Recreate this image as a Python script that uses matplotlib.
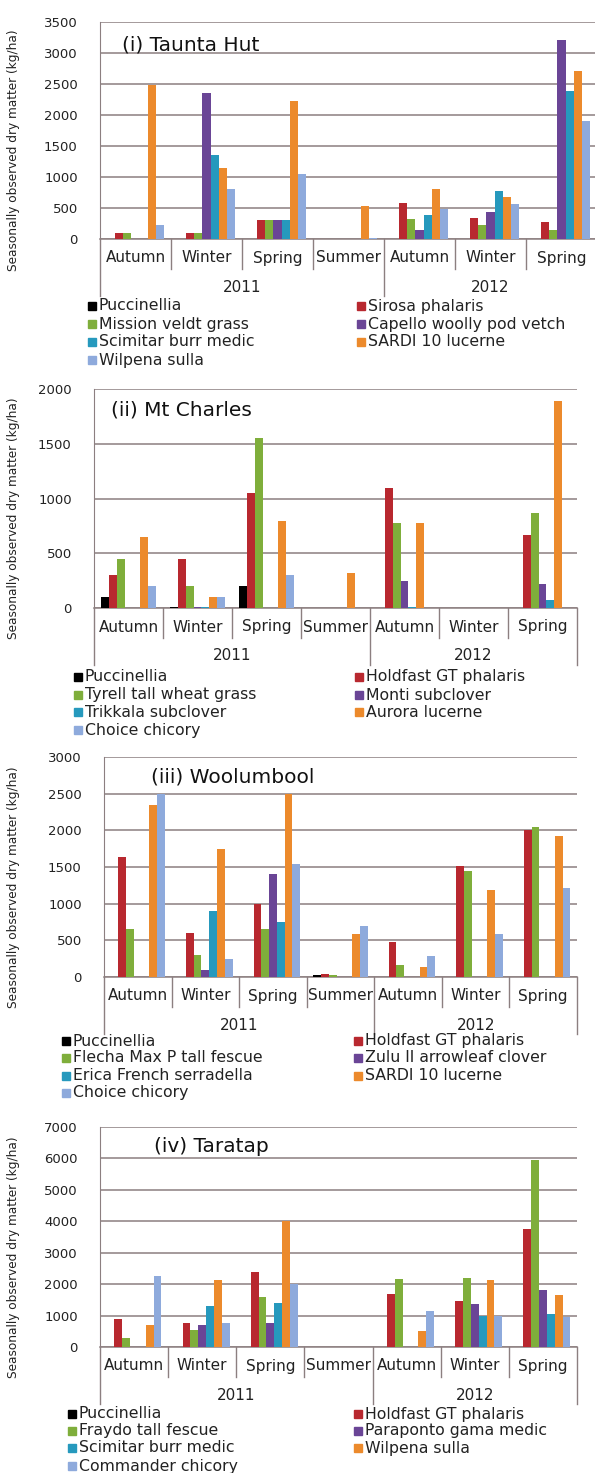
import matplotlib
matplotlib.use("Agg")
import matplotlib.pyplot as plt
from matplotlib.patches import Rectangle
import numpy as np

plt.rcParams['font.family'] = ['DejaVu Sans']

seasons = ["Autumn", "Winter", "Spring", "Summer", "Autumn", "Winter", "Spring"]
years = ["2011", "2012"]

colors = ["#000000", "#b8282f", "#7fae3b", "#6a4596", "#2699bd", "#ec8a2c", "#8eaadc"]

# (i) Taunta Hut
names_1 = ["Puccinellia", "Sirosa phalaris", "Mission veldt grass",
           "Capello woolly pod vetch", "Scimitar burr medic", "SARDI 10 lucerne",
           "Wilpena sulla"]
puccinellia_1 = [0, 0, 0, 0, 0, 0, 0]
sirosa_1 = [90, 90, 310, 0, 580, 340, 280]
mission_1 = [90, 90, 310, 0, 320, 220, 140]
capello_1 = [0, 2350, 310, 0, 140, 440, 3210]
scimitar_1 = [0, 1350, 310, 0, 390, 770, 2380]
sardi_1 = [2490, 1150, 2230, 540, 800, 670, 2710]
wilpena_1 = [230, 800, 1050, 10, 490, 560, 1910]

# (ii) Mt Charles
names_2 = ["Puccinellia", "Holdfast GT phalaris", "Tyrell tall wheat grass",
           "Monti subclover", "Trikkala subclover", "Aurora lucerne",
           "Choice chicory"]
puccinellia_2 = [100, 10, 200, 0, 0, 0, 0]
holdfast_2 = [300, 450, 1050, 0, 1100, 0, 665]
tyrell_2 = [450, 200, 1550, 0, 780, 0, 870]
monti_2 = [0, 5, 0, 0, 245, 0, 220]
trikkala_2 = [0, 5, 0, 0, 5, 0, 70]
aurora_2 = [650, 100, 790, 320, 780, 0, 1890]
choice_2 = [200, 100, 300, 0, 0, 0, 0]

# (iii) Woolumbool
names_3 = ["Puccinellia", "Holdfast GT phalaris", "Flecha Max P tall fescue",
           "Zulu II arrowleaf clover", "Erica French serradella", "SARDI 10 lucerne",
           "Choice chicory"]
puccinellia_3 = [0, 0, 0, 25, 0, 0, 0]
holdfast_3 = [1640, 600, 1000, 35, 480, 1520, 2000]
flecha_3 = [650, 300, 650, 25, 160, 1450, 2050]
zulu_3 = [0, 100, 1400, 0, 0, 0, 0]
erica_3 = [0, 900, 750, 0, 0, 0, 0]
sardi_3 = [2340, 1750, 2500, 580, 130, 1180, 1920]
choice_3 = [2500, 250, 1540, 700, 280, 590, 1220]

# (iv) Taratap
names_4 = ["Puccinellia", "Holdfast GT phalaris", "Fraydo tall fescue",
           "Paraponto gama medic", "Scimitar burr medic", "Wilpena sulla",
           "Commander chicory"]
puccinellia_4 = [0, 0, 0, 0, 0, 0, 0]
holdfast_4 = [900, 750, 2380, 0, 1700, 1450, 3750]
fraydo_4 = [300, 550, 1600, 0, 2150, 2200, 5950]
paraponto_4 = [0, 700, 750, 0, 0, 1380, 1820]
scimitar_4 = [0, 1300, 1400, 0, 0, 1000, 1050]
wilpena_4 = [700, 2120, 4000, 0, 500, 2120, 1650]
commander_4 = [2250, 750, 2020, 0, 1150, 1000, 950]

W, H = 595, 1473
fig = plt.figure(figsize=(W / 100, H / 100), dpi=100)

panels = [
    dict(title="(i) Taunta Hut", names=names_1,
         data=[puccinellia_1, sirosa_1, mission_1, capello_1, scimitar_1, sardi_1, wilpena_1],
         box=(100, 597, 22, 239), ymax=3500, step=500, tpos=(0.045, 0.894),
         leg_x=(88, 357), leg_y=[306, 324, 342, 360]),
    dict(title="(ii) Mt Charles", names=names_2,
         data=[puccinellia_2, holdfast_2, tyrell_2, monti_2, trikkala_2, aurora_2, choice_2],
         box=(94, 577, 389, 608), ymax=2000, step=500, tpos=(0.035, 0.905),
         leg_x=(74, 355), leg_y=[677, 695, 712, 730]),
    dict(title="(iii) Woolumbool", names=names_3,
         data=[puccinellia_3, holdfast_3, flecha_3, zulu_3, erica_3, sardi_3, choice_3],
         box=(104, 577, 757, 977), ymax=3000, step=500, tpos=(0.10, 0.91),
         leg_x=(62, 354), leg_y=[1041, 1058, 1076, 1093]),
    dict(title="(iv) Taratap", names=names_4,
         data=[puccinellia_4, holdfast_4, fraydo_4, paraponto_4, scimitar_4, wilpena_4, commander_4],
         box=(100, 577, 1127, 1347), ymax=7000, step=1000, tpos=(0.113, 0.91),
         leg_x=(68, 354), leg_y=[1414, 1431, 1448, 1466]),
]

grid_c = "#8c7f80"
x = np.arange(len(seasons))
bw = 0.115

for p in panels:
    l, r, t, b = p["box"]
    ax = fig.add_axes([l / W, 1 - b / H, (r - l) / W, (b - t) / H])
    for i, vals in enumerate(p["data"]):
        ax.bar(x + (i - 3) * bw, vals, bw, color=colors[i], zorder=3)
    ax.set_xlim(-0.5, len(seasons) - 0.5)
    ax.set_ylim(0, p["ymax"])
    ax.set_yticks(np.arange(0, p["ymax"] + 1, p["step"]))
    ax.yaxis.grid(True, color=grid_c, lw=1.1, zorder=0)
    ax.tick_params(axis="y", length=0, labelsize=9.5, labelcolor="#222222", pad=16)
    ax.set_xticks([])
    for s in ["top", "right"]:
        ax.spines[s].set_visible(False)
    ax.spines["left"].set_color(grid_c)
    ax.spines["bottom"].set_color(grid_c)
    ax.spines["bottom"].set_linewidth(1.1)

    ph = b - t
    tr = ax.get_xaxis_transform()
    for k in range(len(seasons) + 1):
        depth = 57 if k in (0, 4, 7) else 30
        ax.plot([k - 0.5, k - 0.5], [0, -depth / ph], color=grid_c, lw=1,
                transform=tr, clip_on=False)
    for k, s in enumerate(seasons):
        ax.text(k, -19 / ph, s, transform=tr, ha="center", va="center",
                fontsize=11, color="#222222")
    ax.text(1.5, -48 / ph, years[0], transform=tr, ha="center", va="center",
            fontsize=11, color="#222222")
    ax.text(5.0, -48 / ph, years[1], transform=tr, ha="center", va="center",
            fontsize=11, color="#222222")

    ax.text(p["tpos"][0], p["tpos"][1], p["title"], transform=ax.transAxes,
            ha="left", va="center", fontsize=14.5, color="#111111")

    ax.set_ylabel("Seasonally observed dry matter (kg/ha)",
                  fontsize=8.7, color="#222222")
    ax.yaxis.set_label_coords(-(l - 20) / (r - l), 0.41)

    for i, name in enumerate(p["names"]):
        col = i % 2
        row = i // 2
        lx = p["leg_x"][col]
        ly = p["leg_y"][row]
        fig.patches.append(Rectangle((lx / W, 1 - (ly + 4) / H), 8 / W, 8 / H,
                                     transform=fig.transFigure, color=colors[i]))
        fig.text((lx + 11) / W, 1 - ly / H, name, ha="left", va="center",
                 fontsize=11.3, color="#222222")

fig.savefig("out.png", dpi=100, facecolor="white")
